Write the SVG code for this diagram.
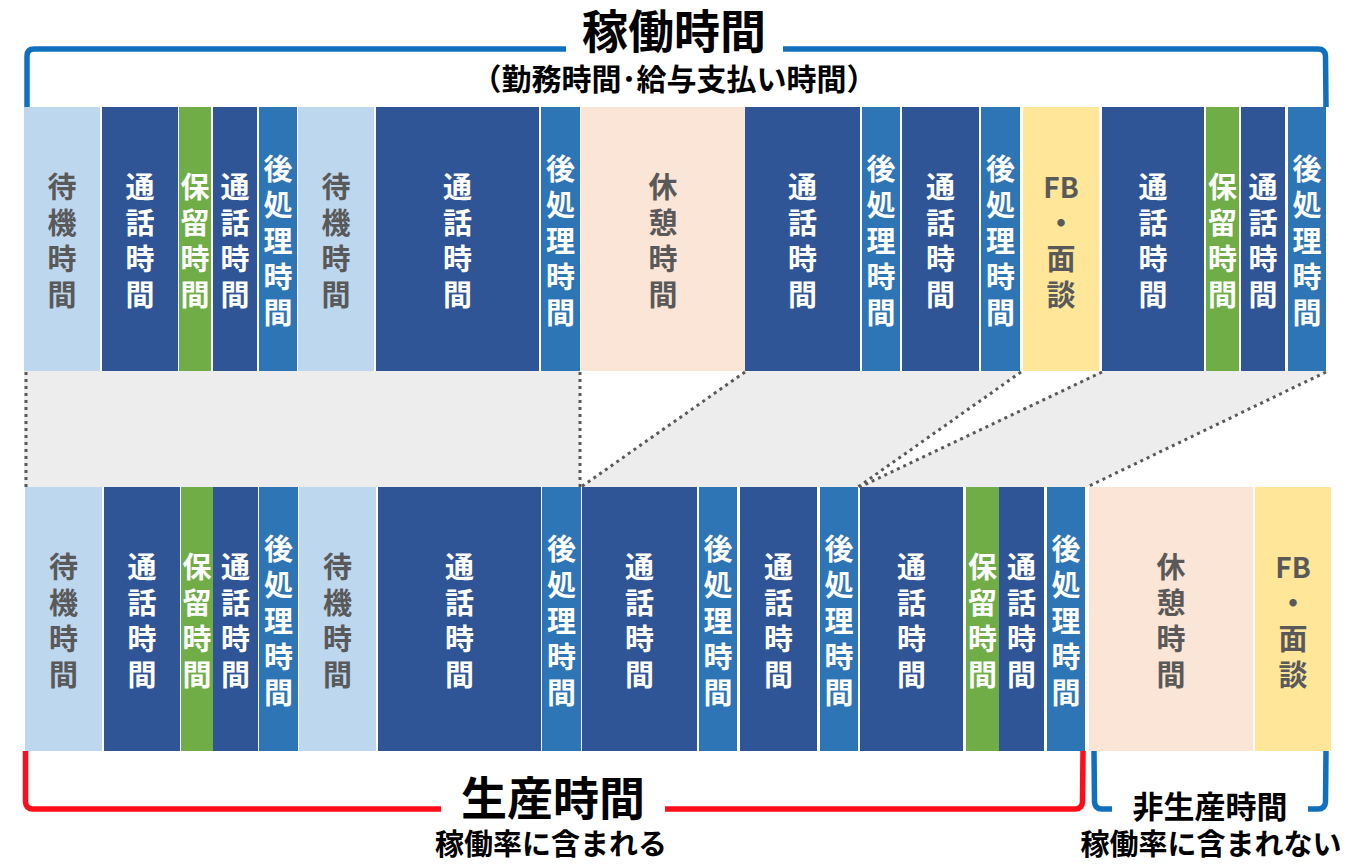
<svg xmlns="http://www.w3.org/2000/svg" width="1356" height="865" viewBox="0 0 1356 865">
<style>
.lb{fill:#BDD7EE}.db{fill:#2F5597}.mb{fill:#2E75B6}.gr{fill:#70AD47}.pe{fill:#FBE5D6}.ye{fill:#FFE699}
.t{font-family:"Noto Sans CJK JP","Noto Sans",sans-serif;font-weight:bold;font-size:29px;text-anchor:middle}
.w{fill:#FFFFFF}.g{fill:#595959}
.fb{font-size:28px}
.h{font-family:"Noto Sans CJK JP","Noto Sans",sans-serif;font-weight:bold;text-anchor:middle;fill:#000}
.br{fill:none;stroke-width:5.5;stroke-linecap:butt}
.dot{fill:none;stroke:#595959;stroke-width:3;stroke-dasharray:3 4}
.band{fill:#EDEDED}
</style>
<rect width="1356" height="865" fill="#FFFFFF"/>
<g id="band">
<polygon class="band" points="24,371 580,371 580,487 24,487"/>
<polygon class="band" points="745,371 1021,371 858,487 581,487"/>
<polygon class="band" points="1102,371 1326,371 1087,487 860,487"/>
</g>
<g id="brackets">
<path class="br" stroke="#1070BD" d="M27 107 L27 56 Q27 49 34 49 L566 49"/>
<path class="br" stroke="#1070BD" d="M783 49 L1318 49 Q1325 49 1325.5 56 L1326 107"/>
<path class="br" stroke="#FF0D1A" d="M25.5 751 L25.5 802 Q26 809 33 809 L441 809"/>
<path class="br" stroke="#FF0D1A" d="M665 809 L1075 809 Q1082 809 1082.5 802 L1083 751"/>
<path class="br" stroke="#1070BD" d="M1094 751 L1094.5 802 Q1095 809 1102 809 L1112 809"/>
<path class="br" stroke="#1070BD" d="M1308 809 L1318 809 Q1325 809 1325.5 802 L1326 751"/>
</g>
<g id="titles">
<text class="h" x="674" y="48" font-size="46">稼働時間</text>
<text class="h" x="674" y="90" font-size="30">（勤務時間･給与支払い時間）</text>
<text class="h" x="553" y="815" font-size="46">生産時間</text>
<text class="h" x="551" y="855" font-size="29">稼働率に含まれる</text>
<text class="h" x="1210" y="818" font-size="31">非生産時間</text>
<text class="h" x="1211" y="855" font-size="29">稼働率に含まれない</text>
</g>
<g id="top-row">
<g id="t1"><rect class="lb" x="24" y="107" width="76" height="264"/><text class="t g"><tspan x="62" y="198">待</tspan><tspan x="62" y="234">機</tspan><tspan x="62" y="270">時</tspan><tspan x="62" y="306">間</tspan></text></g>
<g id="t2"><rect class="db" x="102" y="107" width="76" height="264"/><text class="t w"><tspan x="140" y="198">通</tspan><tspan x="140" y="234">話</tspan><tspan x="140" y="270">時</tspan><tspan x="140" y="306">間</tspan></text></g>
<g id="t3"><rect class="gr" x="179" y="107" width="32" height="264"/><text class="t w"><tspan x="195" y="198">保</tspan><tspan x="195" y="234">留</tspan><tspan x="195" y="270">時</tspan><tspan x="195" y="306">間</tspan></text></g>
<g id="t4"><rect class="db" x="213" y="107" width="44" height="264"/><text class="t w"><tspan x="235" y="198">通</tspan><tspan x="235" y="234">話</tspan><tspan x="235" y="270">時</tspan><tspan x="235" y="306">間</tspan></text></g>
<g id="t5"><rect class="mb" x="259" y="107" width="38" height="264"/><text class="t w"><tspan x="278" y="180">後</tspan><tspan x="278" y="216">処</tspan><tspan x="278" y="252">理</tspan><tspan x="278" y="288">時</tspan><tspan x="278" y="324">間</tspan></text></g>
<g id="t6"><rect class="lb" x="298" y="107" width="76" height="264"/><text class="t g"><tspan x="336" y="198">待</tspan><tspan x="336" y="234">機</tspan><tspan x="336" y="270">時</tspan><tspan x="336" y="306">間</tspan></text></g>
<g id="t7"><rect class="db" x="376" y="107" width="163" height="264"/><text class="t w"><tspan x="457.5" y="198">通</tspan><tspan x="457.5" y="234">話</tspan><tspan x="457.5" y="270">時</tspan><tspan x="457.5" y="306">間</tspan></text></g>
<g id="t8"><rect class="mb" x="541" y="107" width="39" height="264"/><text class="t w"><tspan x="560.5" y="180">後</tspan><tspan x="560.5" y="216">処</tspan><tspan x="560.5" y="252">理</tspan><tspan x="560.5" y="288">時</tspan><tspan x="560.5" y="324">間</tspan></text></g>
<g id="t9"><rect class="pe" x="581" y="107" width="164" height="264"/><text class="t g"><tspan x="663" y="198">休</tspan><tspan x="663" y="234">憩</tspan><tspan x="663" y="270">時</tspan><tspan x="663" y="306">間</tspan></text></g>
<g id="t10"><rect class="db" x="745" y="107" width="115" height="264"/><text class="t w"><tspan x="802.5" y="198">通</tspan><tspan x="802.5" y="234">話</tspan><tspan x="802.5" y="270">時</tspan><tspan x="802.5" y="306">間</tspan></text></g>
<g id="t11"><rect class="mb" x="862" y="107" width="38" height="264"/><text class="t w"><tspan x="881" y="180">後</tspan><tspan x="881" y="216">処</tspan><tspan x="881" y="252">理</tspan><tspan x="881" y="288">時</tspan><tspan x="881" y="324">間</tspan></text></g>
<g id="t12"><rect class="db" x="902" y="107" width="77" height="264"/><text class="t w"><tspan x="940.5" y="198">通</tspan><tspan x="940.5" y="234">話</tspan><tspan x="940.5" y="270">時</tspan><tspan x="940.5" y="306">間</tspan></text></g>
<g id="t13"><rect class="mb" x="981" y="107" width="39" height="264"/><text class="t w"><tspan x="1000.5" y="180">後</tspan><tspan x="1000.5" y="216">処</tspan><tspan x="1000.5" y="252">理</tspan><tspan x="1000.5" y="288">時</tspan><tspan x="1000.5" y="324">間</tspan></text></g>
<g id="t14"><rect class="ye" x="1023" y="107" width="76" height="264"/><text class="t g"><tspan class="fb" x="1061" y="198">FB</tspan><tspan x="1061" y="234">・</tspan><tspan x="1061" y="270">面</tspan><tspan x="1061" y="306">談</tspan></text></g>
<g id="t15"><rect class="db" x="1102" y="107" width="102" height="264"/><text class="t w"><tspan x="1153" y="198">通</tspan><tspan x="1153" y="234">話</tspan><tspan x="1153" y="270">時</tspan><tspan x="1153" y="306">間</tspan></text></g>
<g id="t16"><rect class="gr" x="1206" y="107" width="33" height="264"/><text class="t w"><tspan x="1222.5" y="198">保</tspan><tspan x="1222.5" y="234">留</tspan><tspan x="1222.5" y="270">時</tspan><tspan x="1222.5" y="306">間</tspan></text></g>
<g id="t17"><rect class="db" x="1241" y="107" width="44" height="264"/><text class="t w"><tspan x="1263" y="198">通</tspan><tspan x="1263" y="234">話</tspan><tspan x="1263" y="270">時</tspan><tspan x="1263" y="306">間</tspan></text></g>
<g id="t18"><rect class="mb" x="1288" y="107" width="38" height="264"/><text class="t w"><tspan x="1307" y="180">後</tspan><tspan x="1307" y="216">処</tspan><tspan x="1307" y="252">理</tspan><tspan x="1307" y="288">時</tspan><tspan x="1307" y="324">間</tspan></text></g>
</g>
<g id="bottom-row">
<g id="b1"><rect class="lb" x="25" y="487" width="77" height="264"/><text class="t g"><tspan x="63.5" y="578">待</tspan><tspan x="63.5" y="614">機</tspan><tspan x="63.5" y="650">時</tspan><tspan x="63.5" y="686">間</tspan></text></g>
<g id="b2"><rect class="db" x="104" y="487" width="76" height="264"/><text class="t w"><tspan x="142" y="578">通</tspan><tspan x="142" y="614">話</tspan><tspan x="142" y="650">時</tspan><tspan x="142" y="686">間</tspan></text></g>
<g id="b3"><rect class="gr" x="181" y="487" width="32" height="264"/><text class="t w"><tspan x="197" y="578">保</tspan><tspan x="197" y="614">留</tspan><tspan x="197" y="650">時</tspan><tspan x="197" y="686">間</tspan></text></g>
<g id="b4"><rect class="db" x="213" y="487" width="45" height="264"/><text class="t w"><tspan x="235.5" y="578">通</tspan><tspan x="235.5" y="614">話</tspan><tspan x="235.5" y="650">時</tspan><tspan x="235.5" y="686">間</tspan></text></g>
<g id="b5"><rect class="mb" x="259" y="487" width="39" height="264"/><text class="t w"><tspan x="278.5" y="560">後</tspan><tspan x="278.5" y="596">処</tspan><tspan x="278.5" y="632">理</tspan><tspan x="278.5" y="668">時</tspan><tspan x="278.5" y="704">間</tspan></text></g>
<g id="b6"><rect class="lb" x="299" y="487" width="77" height="264"/><text class="t g"><tspan x="337.5" y="578">待</tspan><tspan x="337.5" y="614">機</tspan><tspan x="337.5" y="650">時</tspan><tspan x="337.5" y="686">間</tspan></text></g>
<g id="b7"><rect class="db" x="378" y="487" width="163" height="264"/><text class="t w"><tspan x="459.5" y="578">通</tspan><tspan x="459.5" y="614">話</tspan><tspan x="459.5" y="650">時</tspan><tspan x="459.5" y="686">間</tspan></text></g>
<g id="b8"><rect class="mb" x="542" y="487" width="39" height="264"/><text class="t w"><tspan x="561.5" y="560">後</tspan><tspan x="561.5" y="596">処</tspan><tspan x="561.5" y="632">理</tspan><tspan x="561.5" y="668">時</tspan><tspan x="561.5" y="704">間</tspan></text></g>
<g id="b9"><rect class="db" x="582" y="487" width="115" height="264"/><text class="t w"><tspan x="639.5" y="578">通</tspan><tspan x="639.5" y="614">話</tspan><tspan x="639.5" y="650">時</tspan><tspan x="639.5" y="686">間</tspan></text></g>
<g id="b10"><rect class="mb" x="699" y="487" width="38" height="264"/><text class="t w"><tspan x="718" y="560">後</tspan><tspan x="718" y="596">処</tspan><tspan x="718" y="632">理</tspan><tspan x="718" y="668">時</tspan><tspan x="718" y="704">間</tspan></text></g>
<g id="b11"><rect class="db" x="740" y="487" width="77" height="264"/><text class="t w"><tspan x="778.5" y="578">通</tspan><tspan x="778.5" y="614">話</tspan><tspan x="778.5" y="650">時</tspan><tspan x="778.5" y="686">間</tspan></text></g>
<g id="b12"><rect class="mb" x="820" y="487" width="38" height="264"/><text class="t w"><tspan x="839" y="560">後</tspan><tspan x="839" y="596">処</tspan><tspan x="839" y="632">理</tspan><tspan x="839" y="668">時</tspan><tspan x="839" y="704">間</tspan></text></g>
<g id="b13"><rect class="db" x="860" y="487" width="103" height="264"/><text class="t w"><tspan x="911.5" y="578">通</tspan><tspan x="911.5" y="614">話</tspan><tspan x="911.5" y="650">時</tspan><tspan x="911.5" y="686">間</tspan></text></g>
<g id="b14"><rect class="gr" x="966" y="487" width="33" height="264"/><text class="t w"><tspan x="982.5" y="578">保</tspan><tspan x="982.5" y="614">留</tspan><tspan x="982.5" y="650">時</tspan><tspan x="982.5" y="686">間</tspan></text></g>
<g id="b15"><rect class="db" x="999" y="487" width="45" height="264"/><text class="t w"><tspan x="1021.5" y="578">通</tspan><tspan x="1021.5" y="614">話</tspan><tspan x="1021.5" y="650">時</tspan><tspan x="1021.5" y="686">間</tspan></text></g>
<g id="b16"><rect class="mb" x="1047" y="487" width="38" height="264"/><text class="t w"><tspan x="1066" y="560">後</tspan><tspan x="1066" y="596">処</tspan><tspan x="1066" y="632">理</tspan><tspan x="1066" y="668">時</tspan><tspan x="1066" y="704">間</tspan></text></g>
<g id="b17"><rect class="pe" x="1089" y="487" width="164" height="264"/><text class="t g"><tspan x="1171" y="578">休</tspan><tspan x="1171" y="614">憩</tspan><tspan x="1171" y="650">時</tspan><tspan x="1171" y="686">間</tspan></text></g>
<g id="b18"><rect class="ye" x="1255" y="487" width="76" height="264"/><text class="t g"><tspan class="fb" x="1293" y="578">FB</tspan><tspan x="1293" y="614">・</tspan><tspan x="1293" y="650">面</tspan><tspan x="1293" y="686">談</tspan></text></g>
</g>
<g id="connectors">
<line class="dot" x1="26" y1="372" x2="26" y2="487"/>
<line class="dot" x1="580" y1="372" x2="580" y2="487"/>
<line class="dot" x1="745" y1="372" x2="581" y2="487"/>
<line class="dot" x1="1021" y1="372" x2="858" y2="487"/>
<line class="dot" x1="1102" y1="372" x2="860" y2="487"/>
<line class="dot" x1="1326" y1="372" x2="1087" y2="487"/>
</g>
</svg>
